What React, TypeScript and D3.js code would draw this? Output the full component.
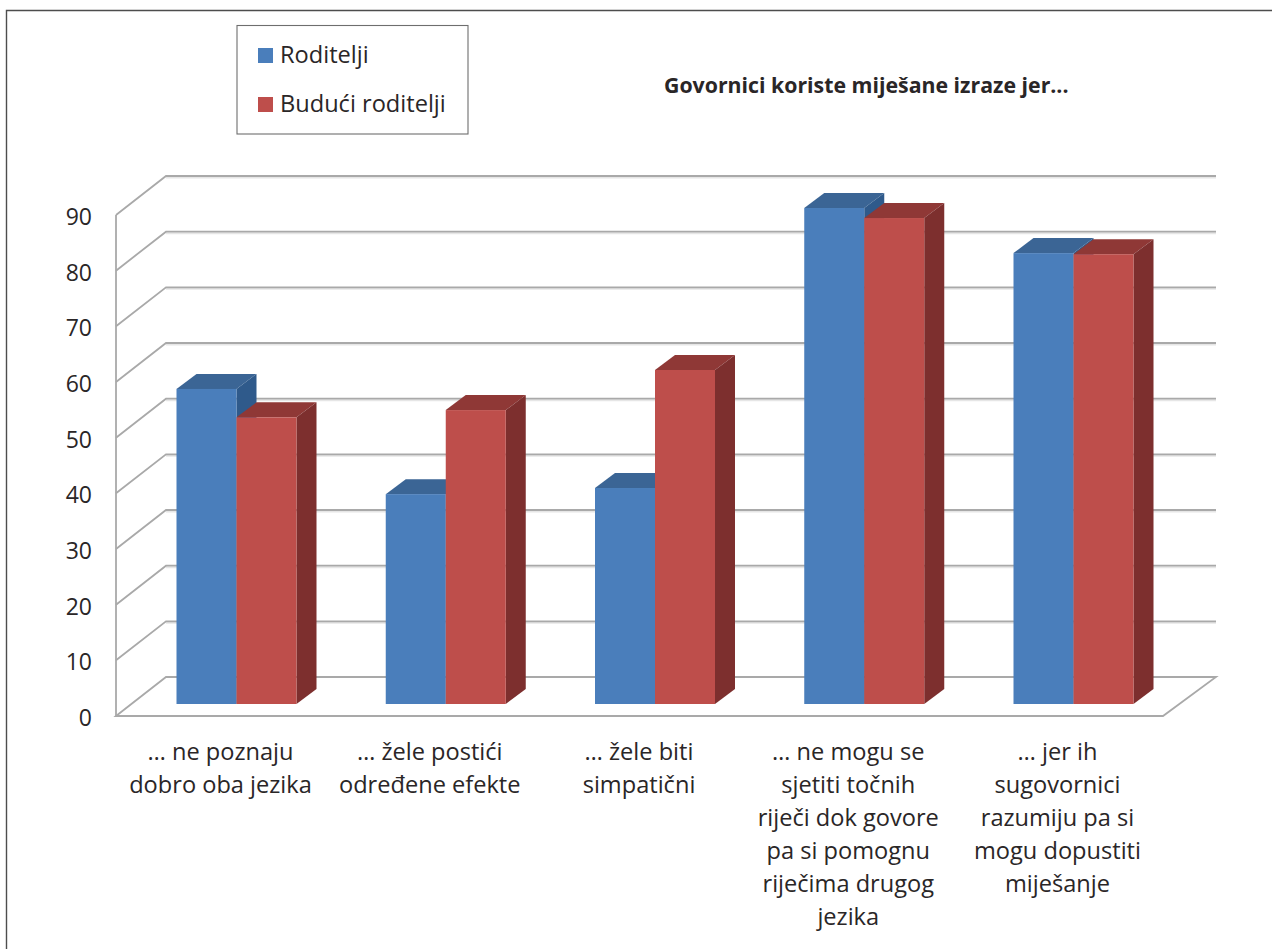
import React from "react";
import * as d3 from "d3";

const categories: string[][] = [
  ["… ne poznaju", "dobro oba jezika"],
  ["… žele postići", "određene efekte"],
  ["… žele biti", "simpatični"],
  ["… ne mogu se", "sjetiti točnih", "riječi dok govore", "pa si pomognu", "riječima drugog", "jezika"],
  ["… jer ih", "sugovornici", "razumiju pa si", "mogu dopustiti", "miješanje"],
];
const roditelji = [56.6, 37.7, 38.8, 89.1, 81];
const buduciRoditelji = [51.5, 52.8, 60, 87.3, 80.8];
const yTicks = [0, 10, 20, 30, 40, 50, 60, 70, 80, 90];
const seriesNames = ["Roditelji", "Budući roditelji"];
const chartTitle = "Govornici koriste miješane izraze jer...";

const FONT = "'Open Sans', 'Noto Sans', sans-serif";
const INK = "#2a2627";
const GRID = "#a9a9a9";

const faces = [
  { front: "#4a7ebb", top: "#3b6595", side: "#2f5a8b" },
  { front: "#be4e4b", top: "#8f3836", side: "#7d2f2e" },
];

// Front plane of the wall/floor box and the offset of its back plane.
const y = d3.scaleLinear().domain([0, 90]).range([716, 215]);
const xFrontLeft = 116;
const xFrontRight = 1163;
const wallDx = 50;
const wallDy = -39;
const wallEndX = 1216;

// Columns stand part-way into the floor.
const barLift = -12;
const barDx = 20;
const barDy = -15;
const barW = 60;
const x = d3.scaleLinear().domain([0, 4]).range([176.5, 1013.5]);

// Category captions are centred on the front of the box, left of their column pair.
const captionShift = -16;

const poly = (pts: [number, number][]) => d3.line()(pts) + "Z";

function Column({ x0, v, c }: { x0: number; v: number; c: (typeof faces)[number] }) {
  const b = y(0) + barLift;
  const t = y(v) + barLift;
  const r = x0 + barW;
  return (
    <g>
      <path d={poly([[x0, t], [x0 + barDx, t + barDy], [r + barDx, t + barDy], [r, t]])} fill={c.top} />
      <path d={poly([[r, t], [r + barDx, t + barDy], [r + barDx, b + barDy], [r, b]])} fill={c.side} />
      <rect x={x0} y={t} width={barW} height={b - t} fill={c.front} />
    </g>
  );
}

export default function App() {
  const gridStroke = { stroke: GRID, strokeWidth: 1.8, fill: "none" };
  return (
    <svg
      width={1272}
      height={949}
      style={{ position: "absolute", left: 0, top: 0, background: "#fff", fontFamily: FONT }}
    >
      {/* outer frame, open towards the page's right and bottom edges */}
      <path d="M6.5,949V10.5H1272" fill="none" stroke="#4d4d4d" strokeWidth={1.4} />

      {/* soft shadow under the back-wall lines */}
      {yTicks.slice(1).map((t) => (
        <line key={t} x1={xFrontLeft + wallDx} x2={wallEndX} y1={y(t) + wallDy + 1.5} y2={y(t) + wallDy + 1.5} stroke="#e6e6e6" strokeWidth={2} />
      ))}

      {/* wall gridlines */}
      <line x1={xFrontLeft} x2={xFrontLeft} y1={y(90)} y2={y(0)} {...gridStroke} />
      {yTicks.slice(1).map((t) => (
        <path
          key={t}
          d={d3.line()([
            [xFrontLeft, y(t)],
            [xFrontLeft + wallDx, y(t) + wallDy],
            [wallEndX, y(t) + wallDy],
          ]) as string}
          {...gridStroke}
        />
      ))}

      {/* floor */}
      <path
        d={poly([
          [xFrontLeft, y(0)],
          [xFrontLeft + wallDx, y(0) + wallDy],
          [wallEndX, y(0) + wallDy],
          [xFrontRight, y(0)],
        ])}
        {...gridStroke}
      />

      {/* columns */}
      {categories.map((_, i) => (
        <g key={i}>
          <Column x0={x(i)} v={roditelji[i]} c={faces[0]} />
          <Column x0={x(i) + barW} v={buduciRoditelji[i]} c={faces[1]} />
        </g>
      ))}

      {/* value axis labels */}
      {yTicks.map((t) => (
        <text key={t} x={92} y={y(t)} dy="0.43em" textAnchor="end" fontSize={23} fill={INK}>
          {t}
        </text>
      ))}

      {/* category labels */}
      {categories.map((lines, i) => (
        <text key={i} textAnchor="middle" fontSize={23.6} fill={INK}>
          {lines.map((l, j) => (
            <tspan key={j} x={x(i) + barW + captionShift} y={760 + j * 32.9}>
              {l}
            </tspan>
          ))}
        </text>
      ))}

      {/* legend */}
      <rect x={237} y={25.5} width={231} height={108.5} fill="#fff" stroke="#6e6e6e" strokeWidth={1.1} />
      {seriesNames.map((name, i) => (
        <g key={name}>
          <rect x={258} y={48 + i * 49} width={15} height={15} fill={faces[i].front} />
          <text x={280} y={63.3 + i * 49} fontSize={23.6} fill={INK}>
            {name}
          </text>
        </g>
      ))}

      {/* title */}
      <text x={664} y={92.5} fontSize={21.3} fontWeight={700} fill={INK}>
        {chartTitle}
      </text>
    </svg>
  );
}
